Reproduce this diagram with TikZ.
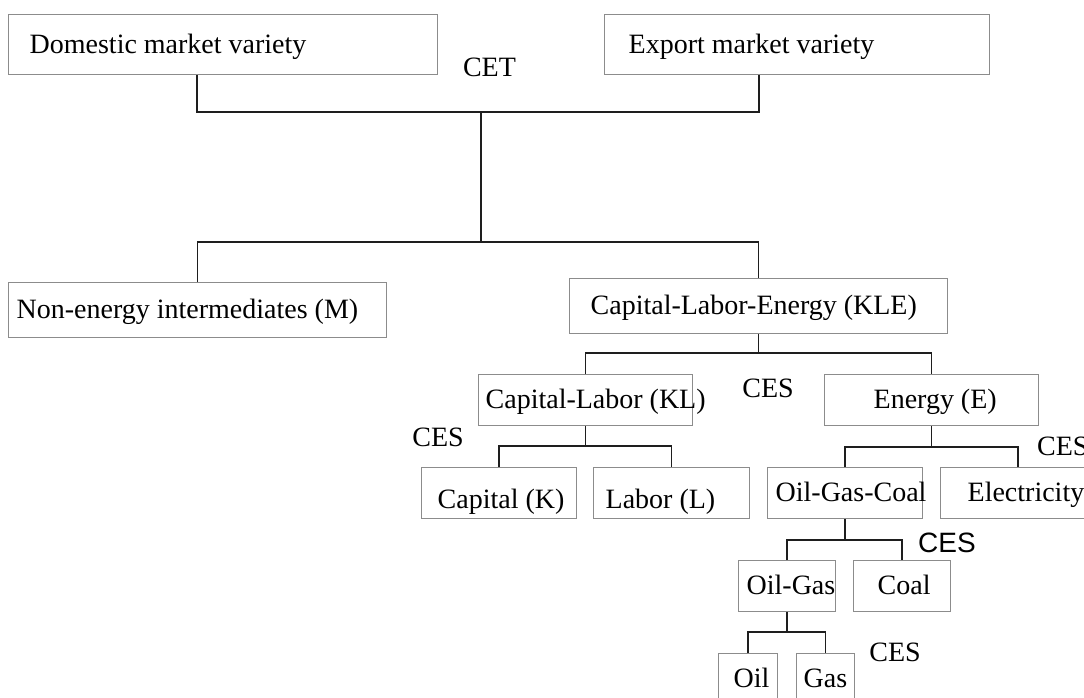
\documentclass[tikz,border=0pt]{standalone}
\usepackage{fontspec}
\setmainfont{Liberation Serif}
\newfontfamily\sansces{Liberation Sans}
\usetikzlibrary{calc}
\definecolor{boxgray}{RGB}{140,140,140}
\definecolor{linegray}{RGB}{30,30,30}
\newcommand{\diagfont}{\fontsize{28}{33}\selectfont}
\tikzset{
  box/.style={draw=boxgray, line width=1.3pt, inner sep=0pt, anchor=north west,
    text height=22pt, text depth=5pt, font=\diagfont},
  lowbox/.style={box, text height=31pt, text depth=0pt},
  conn/.style={draw=linegray, line width=1.4pt},
  lbl/.style={inner sep=0pt, font=\diagfont}
}

\begin{document}
\begin{tikzpicture}[x=1pt,y=1pt,yscale=-1,xscale=1]
\useasboundingbox (0,0) rectangle (1084,697);
\clip (0,0) rectangle (1084,697);
\fill[white] (0,0) rectangle (1084,697);

%Box: top level
\node[box, minimum height=60pt] (dom) at (8,14) {\makebox[429pt][l]{\hspace{21pt}Domestic market variety}};
\node[box, minimum height=60pt] (exp) at (604,14) {\makebox[385pt][l]{\hspace{24pt}Export market variety}};
%Box: second level
\node[box, minimum height=55pt] (nonen) at (8,282) {\makebox[378pt][l]{\hspace{8pt}Non-energy intermediates (M)}};
\node[box, minimum height=55pt] (kle) at (569,278) {\makebox[378pt][l]{\hspace{21pt}Capital-Labor-Energy (KLE)}};
%Box: third level
\node[box, minimum height=51pt] (kl) at (478,374) {\makebox[214pt][l]{\hspace{7pt}Capital-Labor (KL)}};
\node[box, minimum height=51pt] (en) at (824,374) {\makebox[214pt][l]{\hspace{49pt}Energy (E)}};
%Box: fourth level
\node[lowbox, minimum height=51pt] (cap) at (421,467) {\makebox[155pt][l]{\hspace{16pt}Capital (K)}};
\node[lowbox, minimum height=51pt] (lab) at (593,467) {\makebox[156pt][l]{\hspace{12pt}Labor (L)}};
\node[box, minimum height=51pt] (ogc) at (767,467) {\makebox[155pt][l]{\hspace{8pt}Oil-Gas-Coal}};
\node[box, minimum height=51pt] (ele) at (940,467) {\makebox[155pt][l]{\hspace{27pt}Electricity}};
%Box: fifth level
\node[box, minimum height=51pt] (og) at (738,560) {\makebox[97pt][l]{\hspace{8pt}Oil-Gas}};
\node[box, minimum height=51pt] (coal) at (853,560) {\makebox[97pt][l]{\hspace{24pt}Coal}};
%Box: sixth level
\node[box, minimum height=51pt] (oil) at (718,653) {\makebox[59pt][l]{\hspace{15pt}Oil}};
\node[box, minimum height=51pt] (gas) at (796,653) {\makebox[58pt][l]{\hspace{7pt}Gas}};

%Bus points
\coordinate (topbus) at (481,112);
\coordinate (midbus) at (481,242);
\coordinate (klebus) at (kle.south |- 0,353);
\coordinate (klbus) at (kl.south |- 0,446);
\coordinate (enbus) at (en.south |- 0,447);
\coordinate (ogcbus) at (ogc.south |- 0,540);
\coordinate (ogbus) at (og.south |- 0,632);

%Connectors
\draw[conn] ($(dom.south west)+(189,0)$) |- (topbus) -| ($(exp.south west)+(155,0)$);
\draw[conn] (topbus) -- (midbus);
\draw[conn] (nonen.north) |- (midbus) -| (kle.north);
\draw[conn] (kle.south) -- (klebus);
\draw[conn] (kl.north) |- (klebus) -| (en.north);
\draw[conn] (kl.south) -- (klbus);
\draw[conn] (cap.north) |- (klbus) -| (lab.north);
\draw[conn] (en.south) -- (enbus);
\draw[conn] (ogc.north) |- (enbus) -| (ele.north);
\draw[conn] (ogc.south) -- (ogcbus);
\draw[conn] (og.north) |- (ogcbus) -| (coal.north);
\draw[conn] (og.south) -- (ogbus);
\draw[conn] (oil.north) |- (ogbus) -| (gas.north);

% Text Node
\node[lbl] (cet) at (489.5,67) {CET};
% Text Node
\node[lbl] (ceskle) at (768,388) {CES};
% Text Node
\node[lbl] (ceskl) at (438,437.5) {CES};
% Text Node
\node[lbl, anchor=west] (cesen) at (1037,446.5) {CES};
% Text Node
\node[lbl, font=\sansces\diagfont] (cesogc) at (947,542.5) {CES};
% Text Node
\node[lbl] (cesog) at (895,652.5) {CES};

\end{tikzpicture}
\end{document}
